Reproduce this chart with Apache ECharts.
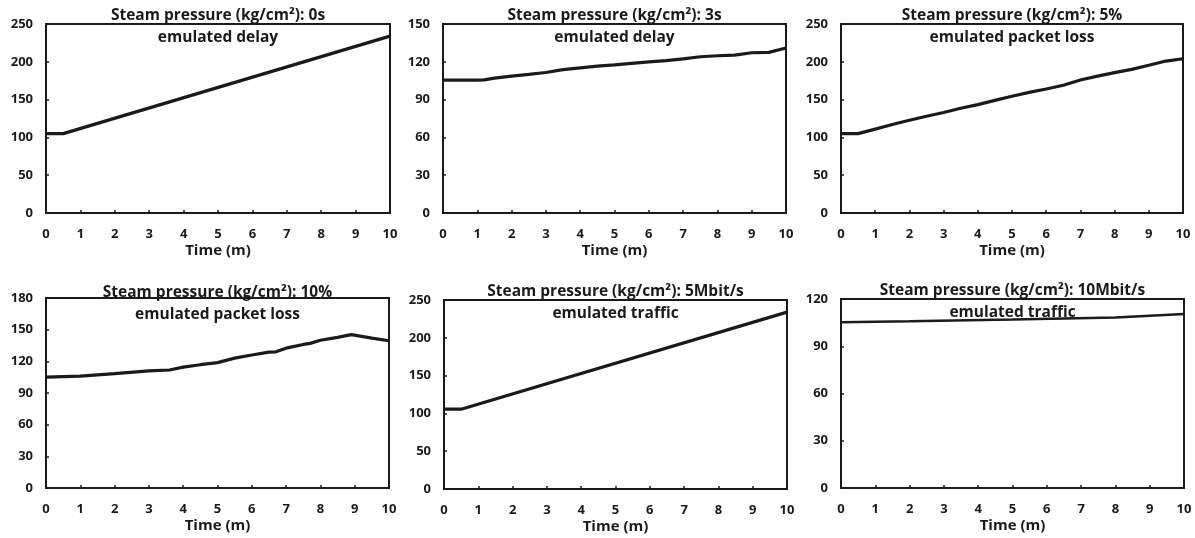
<!DOCTYPE html>
<html>
  <head>
    <meta charset="utf-8">
    <title>Steam pressure</title>
    <script src="https://cdn.jsdelivr.net/npm/echarts@6/dist/echarts.min.js"></script>
    <style>
      html, body { margin: 0; padding: 0; background: #fff; }
      #main { width: 1195px; height: 538px; }
    </style>
  </head>
  <body>
    <div id="main"></div>
    <script type="text/javascript">
      // data, time in minutes
      var titles = [
        'Steam pressure (kg/cm²): 0s\nemulated delay',
        'Steam pressure (kg/cm²): 3s\nemulated delay',
        'Steam pressure (kg/cm²): 5%\nemulated packet loss',
        'Steam pressure (kg/cm²): 10%\nemulated packet loss',
        'Steam pressure (kg/cm²): 5Mbit/s\nemulated traffic',
        'Steam pressure (kg/cm²): 10Mbit/s\nemulated traffic'
      ];
      var yMax = [250, 150, 250, 180, 250, 120];
      var yStep = [50, 30, 50, 30, 50, 30];

      var t1 = [0, 0.5, 10];
      var v1 = [105, 105, 234];

      var t2 = [0, 0.5, 1, 1.2, 1.5, 2, 2.5, 3, 3.5, 4, 4.5, 5, 5.5, 6, 6.5, 7, 7.5, 8, 8.5, 9, 9.5, 10];
      var v2 = [105.5, 105.5, 105.5, 105.6, 107, 108.7, 110, 111.5, 113.8, 115.2, 116.5, 117.6, 118.8, 120, 121, 122.3, 124, 124.8, 125.3, 127.2, 127.5, 131];

      var t3 = [0, 0.5, 1, 1.5, 2, 2.5, 3, 3.5, 4, 4.5, 5, 5.5, 6, 6.5, 7, 7.5, 8, 8.5, 9, 9.5, 10];
      var v3 = [105, 105, 111, 117, 122.6, 128, 133, 138.5, 143.4, 149, 154.5, 159.5, 164, 169, 176, 181, 185.6, 190, 195.4, 201, 204];

      var t4 = [0, 1, 2, 3, 3.6, 4, 4.5, 5, 5.5, 6, 6.5, 6.7, 7, 7.5, 7.7, 8, 8.5, 8.9, 9.5, 10];
      var v4 = [105, 106, 108.3, 110.9, 111.8, 114.5, 116.8, 118.8, 123, 126, 128.7, 129, 132.5, 136, 137, 140, 142.7, 145.3, 142, 139.5];

      var t5 = [0, 0.5, 10];
      var v5 = [105.6, 105.6, 234];

      var t6 = [0, 2, 5, 8, 10];
      var v6 = [105.2, 105.8, 107, 108.3, 110.5];

      var times = [t1, t2, t3, t4, t5, t6];
      var vals = [v1, v2, v3, v4, v5, v6];

      // plot boxes [left, top, width, height] and title top
      var boxes = [
        [46, 24, 344, 189, 5],
        [443, 24, 343, 189, 5],
        [841, 24, 342, 189, 5],
        [46, 298, 343, 190, 282],
        [444, 300, 343, 189, 281],
        [841, 299, 343, 189, 280]
      ];

      var font = 'Open Sans';
      var ink = '#1a1a1a';

      var option = { animation: false, title: [], grid: [], xAxis: [], yAxis: [], series: [] };

      for (var i = 0; i < 6; i++) {
        var b = boxes[i];
        option.title.push({
          text: titles[i],
          left: b[0] + b[2] / 2,
          top: b[4],
          textAlign: 'center',
          padding: 0,
          textStyle: { fontFamily: font, fontWeight: 'bold', fontSize: 15.5, lineHeight: 22, color: ink }
        });
        option.grid.push({
          left: b[0], top: b[1], width: b[2], height: b[3],
          show: true, borderColor: ink, borderWidth: 2, backgroundColor: 'transparent'
        });
        option.xAxis.push({
          gridIndex: i, type: 'value', min: 0, max: 10, interval: 1,
          name: 'Time (m)', nameLocation: 'middle', nameGap: 30,
          nameTextStyle: { fontFamily: font, fontWeight: 'bold', fontSize: 15, color: ink },
          axisLine: { show: true, onZero: false, lineStyle: { color: ink, width: 2 } },
          axisTick: { show: true, inside: true, length: 3, lineStyle: { color: ink, width: 1.5 } },
          axisLabel: { margin: 15, fontFamily: font, fontWeight: 'bold', fontSize: 13, color: ink },
          splitLine: { show: false }
        });
        option.yAxis.push({
          gridIndex: i, type: 'value', min: 0, max: yMax[i], interval: yStep[i],
          axisLine: { show: true, onZero: false, lineStyle: { color: ink, width: 2 } },
          axisTick: { show: true, inside: true, length: 3, lineStyle: { color: ink, width: 1.5 } },
          axisLabel: { margin: 13, fontFamily: font, fontWeight: 'bold', fontSize: 13, color: ink },
          splitLine: { show: false }
        });
        var pts = [];
        for (var k = 0; k < times[i].length; k++) {
          pts.push([times[i][k], vals[i][k]]);
        }
        option.series.push({
          type: 'line', xAxisIndex: i, yAxisIndex: i, data: pts,
          showSymbol: false, symbol: 'none', z: 3,
          lineStyle: { color: ink, width: i === 5 ? 2.5 : 3.2 }
        });
      }

      var myChart = echarts.init(document.getElementById('main'));
      myChart.setOption(option);
    </script>
  </body>
</html>
